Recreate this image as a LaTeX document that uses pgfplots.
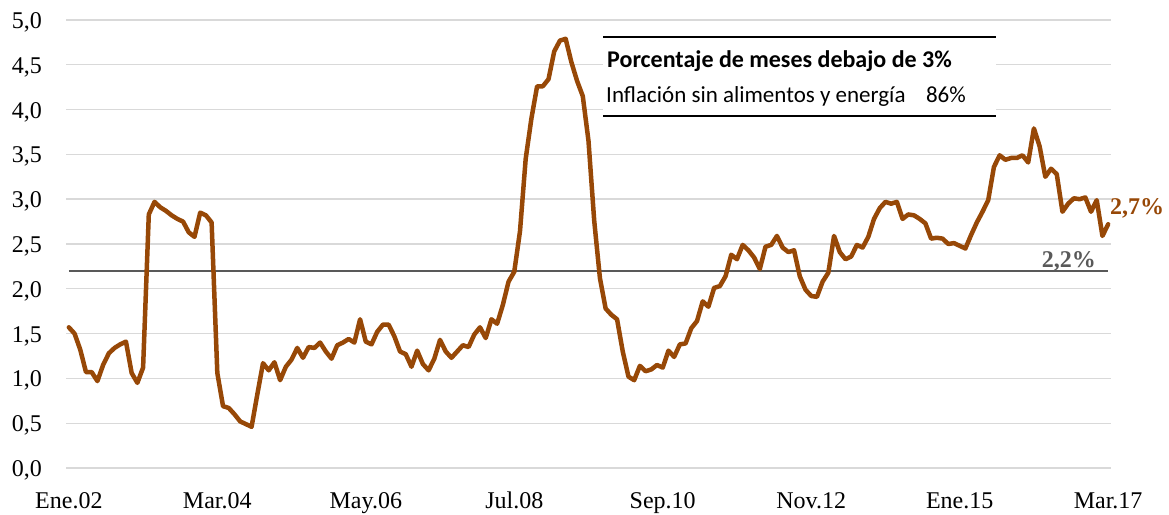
\documentclass[border=0pt]{standalone}
\usepackage{fontspec}
\setmainfont{Liberation Serif}
\newfontfamily\calibri{Carlito}
\usepackage{pgfplots}
\pgfplotsset{compat=1.18}
\definecolor{brownline}{RGB}{151,72,7}
\definecolor{gridgray}{RGB}{217,217,217}
\definecolor{refgray}{RGB}{89,89,89}
\begin{document}
\begin{tikzpicture}
\useasboundingbox (0,0) rectangle (1169pt,514pt);
\begin{axis}[
  at={(66pt,46pt)}, anchor=south west,
  scale only axis, width=1045pt, height=448pt,
  xmin=-0.5, xmax=182.5, ymin=0, ymax=5,
  clip=false,
  axis line style={draw=none},
  tick style={draw=none},
  ymajorgrids, grid style={gridgray, line width=1.4pt},
  ytick={0,0.5,1,1.5,2,2.5,3,3.5,4,4.5,5},
  xtick={0,26,52,78,104,130,156,182},
  xticklabels={Ene.02,Mar.04,May.06,Jul.08,Sep.10,Nov.12,Ene.15,Mar.17},
  /pgf/number format/.cd, fixed, fixed zerofill, precision=1, use comma, assume math mode=true,
  /pgfplots/.cd,
  yticklabel shift=24pt,
  xticklabel shift=40pt,
  yticklabel style={anchor=base east, inner sep=0pt, yshift=-8.5pt, font=\fontsize{24}{28}\selectfont},
  xticklabel style={anchor=base, inner sep=0pt, font=\fontsize{24}{28}\selectfont},
]
\addplot[refgray, line width=2.4pt] coordinates {(0,2.2) (182,2.2)};
\addplot[brownline, line width=4.5pt, line join=round, line cap=round] coordinates {
(0,1.57) (1,1.50) (2,1.32) (3,1.07) (4,1.07) (5,0.97) (6,1.15) (7,1.28) (8,1.34) (9,1.38)
(10,1.41) (11,1.06) (12,0.95) (13,1.12) (14,2.83) (15,2.97) (16,2.91) (17,2.87) (18,2.82) (19,2.78)
(20,2.75) (21,2.63) (22,2.58) (23,2.85) (24,2.82) (25,2.74) (26,1.06) (27,0.69) (28,0.67) (29,0.60)
(30,0.52) (31,0.49) (32,0.46) (33,0.82) (34,1.17) (35,1.09) (36,1.18) (37,0.98) (38,1.13) (39,1.21)
(40,1.34) (41,1.23) (42,1.35) (43,1.34) (44,1.40) (45,1.30) (46,1.22) (47,1.37) (48,1.40) (49,1.44)
(50,1.40) (51,1.66) (52,1.41) (53,1.38) (54,1.52) (55,1.60) (56,1.60) (57,1.47) (58,1.30) (59,1.27)
(60,1.13) (61,1.31) (62,1.16) (63,1.09) (64,1.22) (65,1.43) (66,1.30) (67,1.23) (68,1.30) (69,1.37)
(70,1.35) (71,1.49) (72,1.57) (73,1.45) (74,1.66) (75,1.61) (76,1.82) (77,2.08) (78,2.19) (79,2.64)
(80,3.45) (81,3.90) (82,4.26) (83,4.26) (84,4.34) (85,4.65) (86,4.77) (87,4.79) (88,4.53) (89,4.32)
(90,4.15) (91,3.65) (92,2.76) (93,2.12) (94,1.78) (95,1.71) (96,1.66) (97,1.30) (98,1.02) (99,0.98)
(100,1.14) (101,1.08) (102,1.10) (103,1.15) (104,1.12) (105,1.31) (106,1.24) (107,1.38) (108,1.39) (109,1.56)
(110,1.64) (111,1.86) (112,1.80) (113,2.01) (114,2.03) (115,2.14) (116,2.38) (117,2.33) (118,2.49) (119,2.43)
(120,2.35) (121,2.22) (122,2.47) (123,2.49) (124,2.59) (125,2.46) (126,2.41) (127,2.43) (128,2.14) (129,1.99)
(130,1.92) (131,1.91) (132,2.08) (133,2.18) (134,2.59) (135,2.41) (136,2.33) (137,2.36) (138,2.49) (139,2.46)
(140,2.58) (141,2.78) (142,2.90) (143,2.97) (144,2.95) (145,2.97) (146,2.78) (147,2.83) (148,2.82) (149,2.78)
(150,2.73) (151,2.56) (152,2.57) (153,2.56) (154,2.50) (155,2.51) (156,2.48) (157,2.45) (158,2.60) (159,2.74)
(160,2.86) (161,2.99) (162,3.36) (163,3.49) (164,3.44) (165,3.46) (166,3.46) (167,3.49) (168,3.41) (169,3.79)
(170,3.59) (171,3.25) (172,3.34) (173,3.28) (174,2.86) (175,2.95) (176,3.01) (177,3.00) (178,3.02) (179,2.86)
(180,2.99) (181,2.59) (182,2.72)
};
\end{axis}
% annotation box
\fill[white] (603pt,398pt) rectangle (996pt,477pt);
\draw[black, line width=2pt] (603pt,477pt) -- (996pt,477pt);
\draw[black, line width=2pt] (603pt,398pt) -- (996pt,398pt);
\node[anchor=base west, inner sep=0pt, font=\calibri\bfseries\fontsize{24}{28}\selectfont] at (607pt,446pt) {Porcentaje de meses debajo de 3\%};
\node[anchor=base west, inner sep=0pt, font=\calibri\fontsize{23}{27}\selectfont] at (606pt,411pt) {Inflación sin alimentos y energía};
\node[anchor=base east, inner sep=0pt, font=\calibri\fontsize{23}{27}\selectfont] at (966pt,411pt) {86\%};
% end labels
\node[anchor=base west, inner sep=0pt, text=brownline, font=\bfseries\fontsize{24}{28}\selectfont] at (1110pt,299pt) {2,7\%};
\node[anchor=base east, inner sep=0pt, text=refgray, font=\bfseries\fontsize{24}{28}\selectfont] at (1096pt,246pt) {2,2\%};
\end{tikzpicture}
\end{document}
